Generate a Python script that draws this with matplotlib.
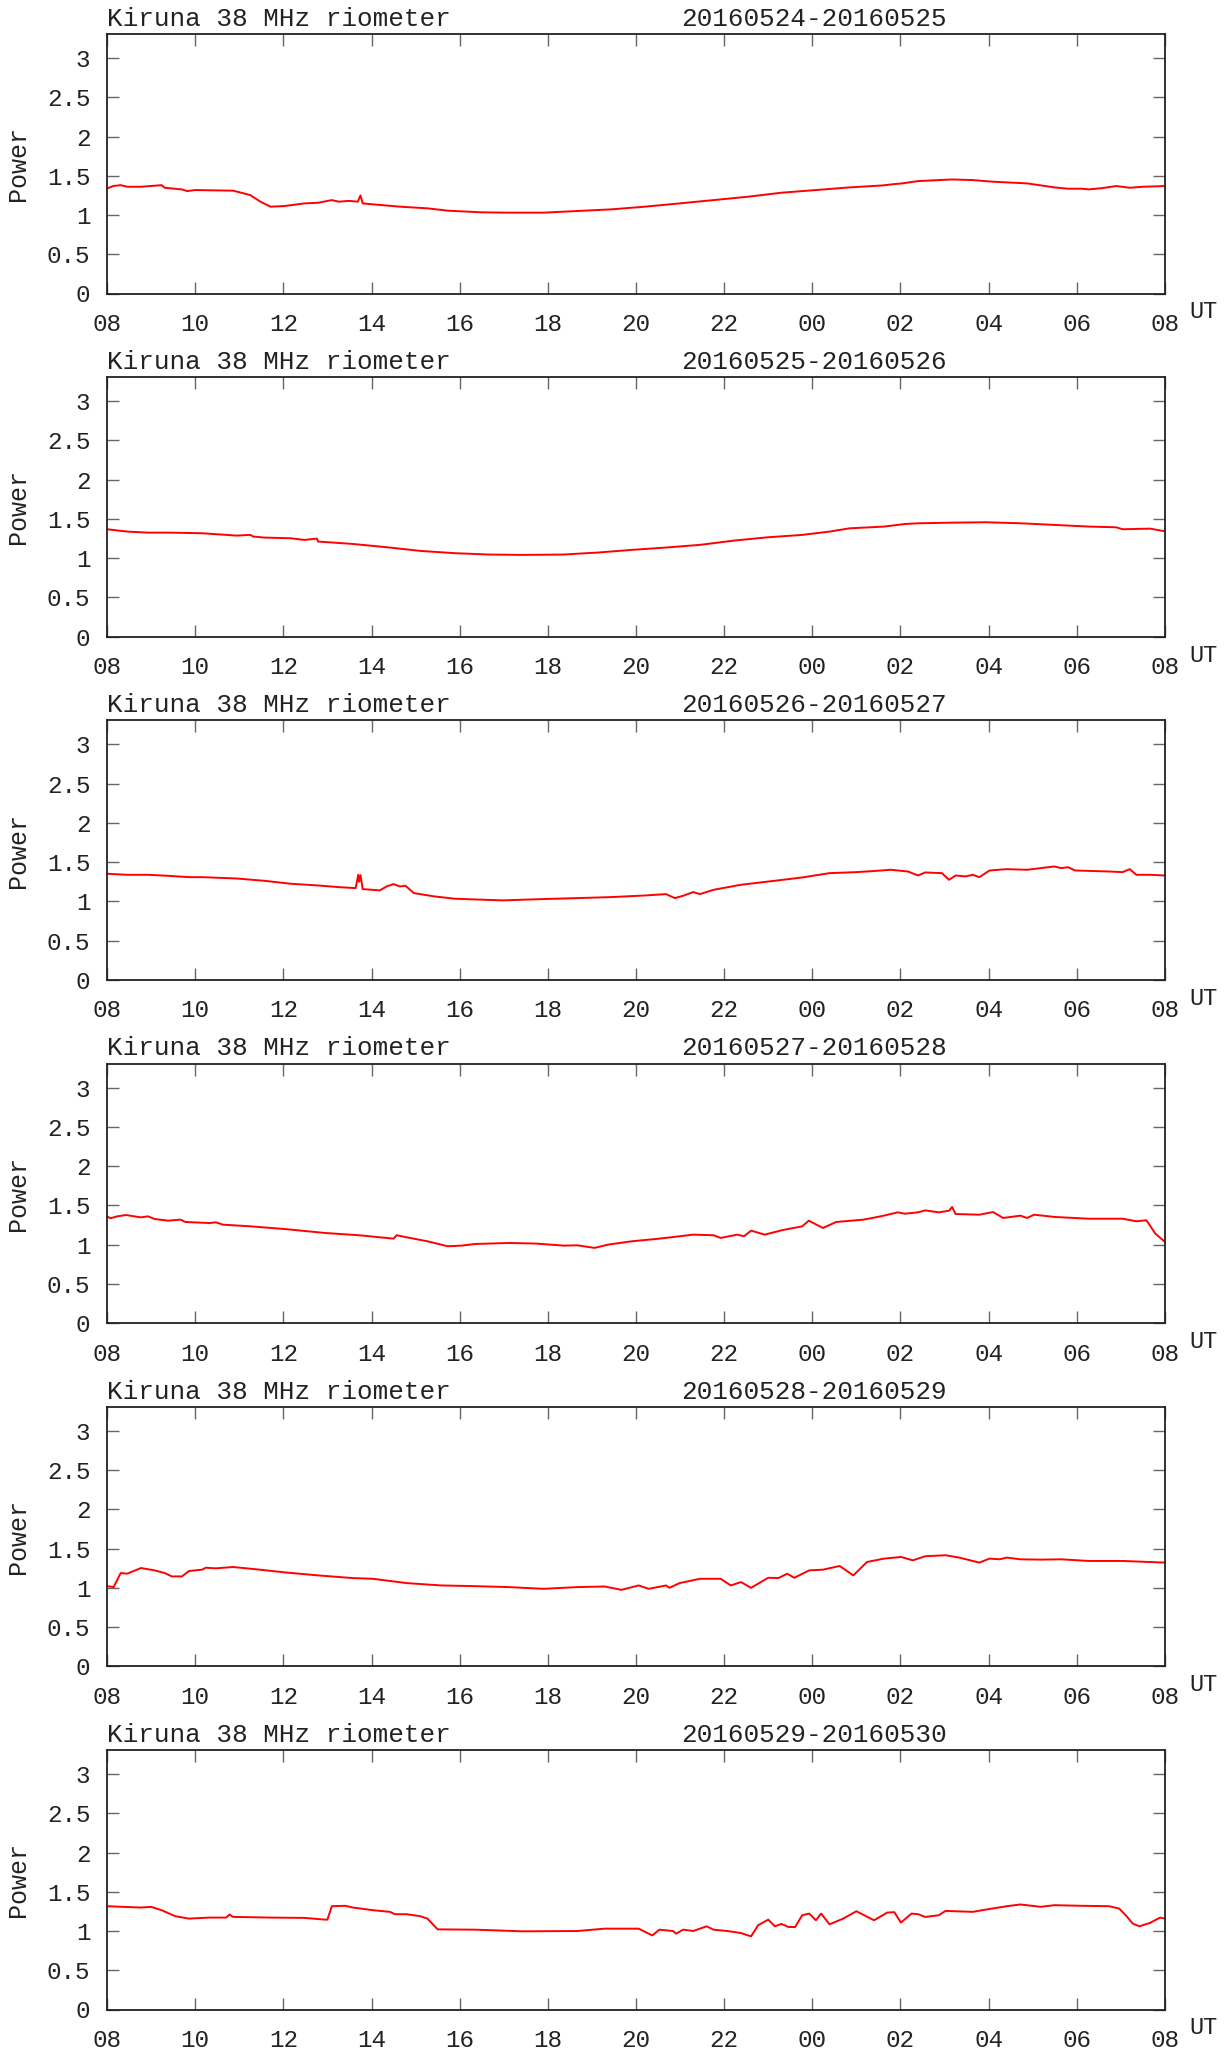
import matplotlib
matplotlib.use("Agg")
import matplotlib.pyplot as plt

plt.rcParams['font.family'] = ['Liberation Mono', 'DejaVu Sans Mono']

station = "Kiruna 38 MHz riometer"
dates = ["20160524-20160525", "20160525-20160526", "20160526-20160527",
         "20160527-20160528", "20160528-20160529", "20160529-20160530"]
xtick_labels = ["08", "10", "12", "14", "16", "18", "20", "22", "00", "02", "04", "06", "08"]
ytick_values = [0, 0.5, 1, 1.5, 2, 2.5, 3]
ytick_labels = ["0", "0.5", "1", "1.5", "2", "2.5", "3"]

# hours since 08 UT, power
h1 = [0, 0.15, 0.31, 0.46, 0.77, 1.24, 1.31, 1.7, 1.82, 2.0, 2.86, 3.0, 3.25, 3.48, 3.71, 4.02, 4.48, 4.79,
      5.1, 5.26, 5.49, 5.69, 5.75, 5.8, 6.03, 6.65, 7.27, 7.73, 8.5, 9.12, 9.9, 10.67, 11.44, 12.2, 12.99,
      13.76, 14.54, 15.3, 16.08, 16.85, 17.6, 17.86, 18.0, 18.4, 19.17, 19.64, 20.1, 20.87, 21.49, 21.8,
      22.11, 22.27, 22.58, 22.89, 23.2, 23.5, 24.0]
p1 = [1.339, 1.37, 1.38, 1.36, 1.36, 1.38, 1.347, 1.326, 1.305, 1.318, 1.31, 1.29, 1.254, 1.17, 1.106, 1.114,
      1.148, 1.156, 1.19, 1.17, 1.18, 1.17, 1.25, 1.148, 1.136, 1.106, 1.085, 1.055, 1.034, 1.03, 1.03,
      1.051, 1.072, 1.106, 1.148, 1.19, 1.233, 1.284, 1.318, 1.352, 1.377, 1.394, 1.40, 1.432, 1.453,
      1.445, 1.424, 1.403, 1.352, 1.335, 1.335, 1.326, 1.343, 1.369, 1.347, 1.36, 1.369]

h2 = [0, 0.46, 0.93, 1.39, 2.16, 2.94, 3.25, 3.32, 3.56, 4.17, 4.48, 4.76, 4.79, 5.57, 6.34, 7.11, 7.89,
      8.66, 9.43, 10.36, 11.13, 11.9, 12.68, 13.45, 14.23, 15.0, 15.77, 16.39, 16.85, 17.63, 18.1, 18.4,
      19.17, 19.95, 20.72, 21.5, 22.27, 22.89, 23.04, 23.66, 24.0]
p2 = [1.369, 1.339, 1.326, 1.326, 1.318, 1.288, 1.297, 1.276, 1.263, 1.254, 1.233, 1.25, 1.212, 1.182,
      1.14, 1.093, 1.064, 1.047, 1.042, 1.047, 1.072, 1.106, 1.136, 1.17, 1.225, 1.267, 1.297, 1.339,
      1.381, 1.403, 1.436, 1.445, 1.453, 1.458, 1.445, 1.424, 1.403, 1.394, 1.369, 1.377, 1.343]

h3 = [0, 0.46, 0.93, 1.39, 1.86, 2.16, 2.94, 3.56, 4.17, 4.79, 5.26, 5.64, 5.70, 5.72, 5.75, 5.8, 6.19,
      6.34, 6.5, 6.65, 6.77, 6.96, 7.42, 7.89, 8.97, 9.9, 10.67, 11.44, 12.22, 12.68, 12.88, 13.07, 13.3,
      13.45, 13.76, 14.38, 15.15, 15.77, 16.39, 17.0, 17.47, 17.78, 18.17, 18.4, 18.56, 18.94, 19.1,
      19.25, 19.48, 19.64, 19.79, 20.02, 20.41, 20.87, 21.18, 21.49, 21.65, 21.8, 21.96, 22.73, 23.04,
      23.2, 23.35, 23.66, 24.0]
p3 = [1.352, 1.339, 1.339, 1.326, 1.309, 1.309, 1.292, 1.263, 1.225, 1.203, 1.182, 1.169, 1.339, 1.25,
      1.335, 1.157, 1.14, 1.19, 1.22, 1.19, 1.2, 1.106, 1.064, 1.034, 1.013, 1.03, 1.042, 1.055, 1.076,
      1.093, 1.042, 1.072, 1.119, 1.093, 1.148, 1.212, 1.263, 1.305, 1.36, 1.373, 1.39, 1.403, 1.381,
      1.33, 1.369, 1.36, 1.275, 1.33, 1.318, 1.339, 1.309, 1.394, 1.411, 1.403, 1.424, 1.445, 1.424,
      1.436, 1.394, 1.381, 1.373, 1.411, 1.339, 1.339, 1.33]

h4 = [0, 0.08, 0.23, 0.43, 0.62, 0.77, 0.93, 1.08, 1.39, 1.67, 1.78, 2.32, 2.47, 2.63, 3.25, 4.02, 4.95,
      5.72, 6.5, 6.57, 6.8, 7.27, 7.73, 8.04, 8.35, 9.12, 9.74, 10.36, 10.67, 11.06, 11.37, 11.9, 12.53,
      13.3, 13.76, 13.92, 14.3, 14.45, 14.61, 14.92, 15.3, 15.77, 15.92, 16.24, 16.54, 17.16, 17.55,
      17.94, 18.1, 18.4, 18.56, 18.87, 19.1, 19.17, 19.25, 19.79, 20.1, 20.33, 20.72, 20.87, 21.03,
      21.5, 22.27, 23.04, 23.35, 23.58, 23.78, 24.0]
p4 = [1.36, 1.335, 1.36, 1.377, 1.36, 1.347, 1.36, 1.326, 1.305, 1.318, 1.288, 1.275, 1.284, 1.254, 1.233,
      1.199, 1.148, 1.119, 1.076, 1.119, 1.093, 1.042, 0.979, 0.987, 1.008, 1.021, 1.013, 0.987, 0.991,
      0.958, 1.0, 1.042, 1.076, 1.127, 1.119, 1.085, 1.127, 1.106, 1.178, 1.127, 1.182, 1.233, 1.305,
      1.212, 1.288, 1.318, 1.36, 1.411, 1.394, 1.411, 1.436, 1.411, 1.432, 1.479, 1.39, 1.381, 1.415,
      1.339, 1.369, 1.339, 1.381, 1.352, 1.33, 1.33, 1.297, 1.31, 1.14, 1.034]

h5 = [0, 0.15, 0.31, 0.46, 0.77, 1.08, 1.31, 1.47, 1.7, 1.86, 2.16, 2.24, 2.47, 2.86, 3.4, 4.02, 4.79,
      5.57, 6.03, 6.8, 7.58, 8.35, 9.12, 9.9, 10.67, 11.29, 11.67, 12.06, 12.29, 12.68, 12.76, 12.99,
      13.45, 13.92, 14.15, 14.38, 14.61, 15.0, 15.23, 15.43, 15.59, 15.93, 16.24, 16.62, 16.93, 17.24,
      17.63, 18.01, 18.28, 18.56, 19.02, 19.33, 19.79, 20.02, 20.25, 20.41, 20.72, 21.18, 21.65, 22.27,
      23.04, 24.0]
p5 = [1.021, 1.009, 1.188, 1.18, 1.252, 1.222, 1.188, 1.145, 1.145, 1.214, 1.231, 1.256, 1.248, 1.265,
      1.235, 1.197, 1.158, 1.124, 1.115, 1.06, 1.03, 1.021, 1.009, 0.987, 1.009, 1.017, 0.974, 1.03,
      0.987, 1.03, 1.0, 1.06, 1.115, 1.115, 1.03, 1.073, 1.0, 1.128, 1.124, 1.179, 1.128, 1.222, 1.231,
      1.278, 1.158, 1.329, 1.372, 1.393, 1.35, 1.402, 1.415, 1.385, 1.321, 1.372, 1.363, 1.385, 1.363,
      1.359, 1.363, 1.342, 1.342, 1.321]

h6 = [0, 0.77, 1.0, 1.24, 1.55, 1.86, 2.32, 2.7, 2.78, 2.86, 3.71, 4.48, 4.95, 5.0, 5.1, 5.41, 5.57,
      6.03, 6.42, 6.53, 6.8, 7.11, 7.27, 7.5, 8.35, 9.43, 10.67, 11.29, 12.06, 12.37, 12.53, 12.84,
      12.91, 13.07, 13.3, 13.6, 13.76, 14.07, 14.38, 14.61, 14.77, 15.0, 15.15, 15.3, 15.46, 15.61,
      15.77, 15.93, 16.08, 16.2, 16.39, 16.7, 17.0, 17.4, 17.7, 17.86, 18.01, 18.25, 18.4, 18.56, 18.87,
      19.02, 19.64, 19.95, 20.41, 20.72, 21.18, 21.49, 22.11, 22.73, 22.96, 23.11, 23.27, 23.42, 23.66,
      23.89, 24.0]
p6 = [1.316, 1.299, 1.308, 1.265, 1.188, 1.158, 1.171, 1.171, 1.209, 1.18, 1.171, 1.167, 1.145, 1.145,
      1.316, 1.321, 1.3, 1.265, 1.244, 1.214, 1.214, 1.188, 1.158, 1.021, 1.017, 0.996, 1.0, 1.03, 1.03,
      0.944, 1.017, 1.0, 0.966, 1.017, 1.0, 1.06, 1.017, 1.0, 0.974, 0.932, 1.073, 1.145, 1.06, 1.09,
      1.051, 1.051, 1.201, 1.222, 1.137, 1.222, 1.085, 1.158, 1.252, 1.137, 1.235, 1.24, 1.107, 1.222,
      1.214, 1.179, 1.201, 1.256, 1.244, 1.274, 1.316, 1.338, 1.308, 1.329, 1.321, 1.316, 1.286, 1.201,
      1.094, 1.06, 1.103, 1.171, 1.158]

hours = [h1, h2, h3, h4, h5, h6]
powers = [p1, p2, p3, p4, p5, p6]

W, H = 1227, 2051
fig = plt.figure(figsize=(W / 100, H / 100), dpi=100)
left_px, right_px = 107, 1165
top0, step, ax_h = 34, 343.2, 259.5

for i in range(6):
    top = top0 + step * i
    ax = fig.add_axes([left_px / W, 1 - (top + ax_h) / H, (right_px - left_px) / W, ax_h / H])
    ax.plot(hours[i], powers[i], color='#ff0000', lw=1.4)
    ax.set_xlim(0, 24)
    ax.set_ylim(0, 3.306)
    ax.set_xticks(range(0, 25, 2))
    ax.set_xticklabels(xtick_labels)
    ax.set_yticks(ytick_values)
    ax.set_yticklabels(ytick_labels)
    ax.tick_params(direction='in', length=8.6, width=1.0, color='#666666',
                   top=True, right=True, labelsize=17.5, labelcolor='#222222')
    ax.tick_params(axis='y', pad=12)
    ax.tick_params(axis='x', pad=14)
    for s in ax.spines.values():
        s.set_linewidth(1.3)
        s.set_color('#222222')
    ax.set_ylabel('Power', fontsize=18, color='#222222')
    ax.yaxis.set_label_coords(-0.073, 0.5)
    ax.text(0, 1.012, station, transform=ax.transAxes, ha='left', va='bottom',
            fontsize=18.7, color='#222222')
    ax.text(0.5425, 1.012, dates[i], transform=ax.transAxes, ha='left', va='bottom',
            fontsize=18.7, color='#222222')
    ax.text(1.0227, -0.071, 'UT', transform=ax.transAxes, ha='left', va='center',
            fontsize=17, color='#222222')

fig.savefig('out.png', dpi=100, facecolor='white')
